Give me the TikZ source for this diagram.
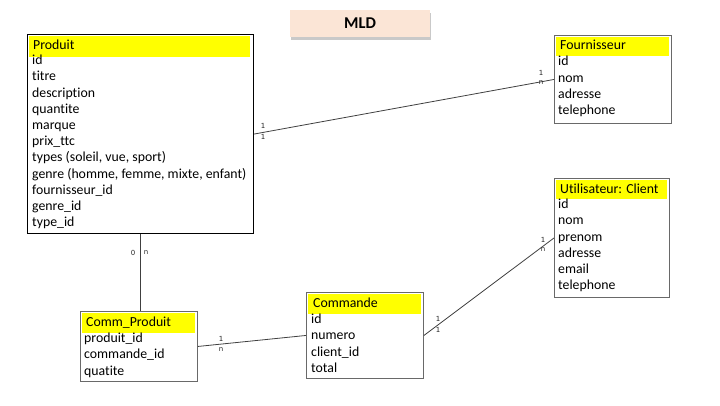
\documentclass[tikz,border=0pt]{standalone}
\usepackage{fontspec}
\setmainfont{Carlito}[Ligatures=CommonOff]
\newfontfamily\lblfont{DejaVu Sans}
\usetikzlibrary{shadows}
\definecolor{hdryellow}{RGB}{255,255,0}
\definecolor{boxgray}{RGB}{105,105,105}
\definecolor{peach}{RGB}{251,229,214}
\tikzset{
  tbl/.style={draw=boxgray, line width=0.9pt, fill=white, inner sep=0pt, anchor=north west},
  tblmain/.style={tbl, draw=black, line width=1.1pt},
  hdr/.style={fill=hdryellow, inner sep=0pt, anchor=north west},
  row/.style={anchor=west, inner sep=0pt, text height=9.5pt, text depth=3pt, font=\fontsize{13.8}{15}\selectfont},
  card/.style={font=\lblfont\fontsize{7}{8}\selectfont, inner sep=0pt, text=black!85},
  link/.style={draw=black!75, line width=0.8pt},
  title/.style={fill=peach, minimum width=140pt, minimum height=27pt, inner sep=0pt,
    font=\fontsize{16.5}{18}\selectfont\bfseries,
    drop shadow={shadow xshift=1pt, shadow yshift=-2.5pt, opacity=0.35, fill=black!60}},
}
\begin{document}
\begin{tikzpicture}[x=1pt,y=-1pt]
\useasboundingbox[fill=white] (0,0) rectangle (720,405);

% title
\node[title] (mld) at (360,23.5) {MLD};

% Produit
\node[tblmain, minimum width=226pt, minimum height=199pt] (produit) at (27,34) {};
\node[hdr, minimum width=221pt, minimum height=21pt] (produit-h) at (29,36) {};
\node[row] (produit-t) at (33,46.5) {Produit};
\foreach \t [count=\i from 0] in {id,titre,description,quantite,marque,{prix\_ttc},{types (soleil, vue, sport)},{genre (homme, femme, mixte, enfant)},{fournisseur\_id},{genre\_id},{type\_id}}
  \node[row] (produit-r\i) at (32,61.5+16.2*\i) {\t};

% Fournisseur
\node[tbl, minimum width=117pt, minimum height=88pt] (fourn) at (554,35) {};
\node[hdr, minimum width=113pt, minimum height=19pt] (fourn-h) at (556,37) {};
\node[row] (fourn-t) at (560,46.5) {Fournisseur};
\foreach \t [count=\i from 0] in {id,nom,adresse,telephone}
  \node[row] (fourn-r\i) at (558,62.5+16.3*\i) {\t};

% Utilisateur: Client
\node[tbl, minimum width=115pt, minimum height=119pt] (client) at (554,178) {};
\node[hdr, minimum width=111pt, minimum height=19pt] (client-h) at (556,180) {};
\node[row] (client-t) at (560,190.5) {Utilisateur: Client};
\foreach \t [count=\i from 0] in {id,nom,prenom,adresse,email,telephone}
  \node[row] (client-r\i) at (558,205.5+16.2*\i) {\t};

% Comm_Produit
\node[tbl, minimum width=117pt, minimum height=70pt] (commprod) at (80,311) {};
\node[hdr, minimum width=113pt, minimum height=20pt] (commprod-h) at (82,313) {};
\node[row] (commprod-t) at (86,323.5) {Comm\_Produit};
\foreach \t [count=\i from 0] in {{produit\_id},{commande\_id},quatite}
  \node[row] (commprod-r\i) at (84,339.5+16.2*\i) {\t};

% Commande
\node[tbl, minimum width=117pt, minimum height=86pt] (commande) at (306,292) {};
\node[hdr, minimum width=113pt, minimum height=20pt] (commande-h) at (308,294) {};
\node[row] (commande-t) at (313,304.5) {Commande};
\foreach \t [count=\i from 0] in {id,numero,{client\_id},total}
  \node[row] (commande-r\i) at (311,320.5+16.2*\i) {\t};

% connectors
\draw[link] (produit.east) -- (fourn.west);
\draw[link] (produit.south) -- (produit.south |- commprod.north);
\draw[link] (commprod.east) -- (commande.west);
\draw[link] (commande.east) -- (client.west);

% cardinalities
\node[card] (c1a) at (263,126) {1};
\node[card] (c1b) at (263,137) {1};
\node[card] (c2a) at (541,73) {1};
\node[card] (c2b) at (541,83) {n};
\node[card] (c3a) at (133,253) {0};
\node[card] (c3b) at (146,253) {n};
\node[card] (c4a) at (221,339) {1};
\node[card] (c4b) at (221,350) {n};
\node[card] (c5a) at (438,319) {1};
\node[card] (c5b) at (438,330) {1};
\node[card] (c6a) at (543,240) {1};
\node[card] (c6b) at (543,250) {n};
\end{tikzpicture}
\end{document}
